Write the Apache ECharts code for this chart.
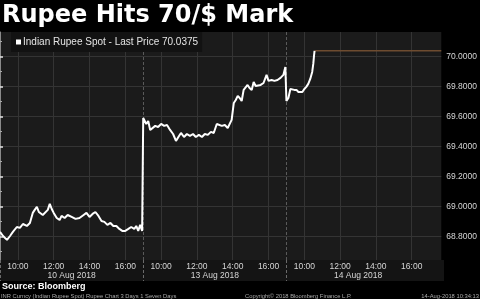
<!DOCTYPE html>
<html><head><meta charset="utf-8">
<script src="https://cdn.jsdelivr.net/npm/echarts@6/dist/echarts.min.js"></script>
<style>html,body{margin:0;padding:0;background:#000;}#c{width:480px;height:299px;}</style>
</head><body><div id="c"></div>
<script>
// [hour of day, INR per USD]
const day1 = [[9.00,68.830],[9.17,68.803],[9.39,68.777],[9.56,68.803],[9.72,68.830],[9.94,68.863],[10.11,68.857],[10.28,68.883],[10.50,68.870],[10.67,68.890],[10.83,68.957],[10.94,68.977],[11.06,68.997],[11.17,68.963],[11.28,68.970],[11.39,68.943],[11.50,68.950],[11.67,68.977],[11.78,69.017],[11.89,68.983],[12.00,68.957],[12.17,68.923],[12.33,68.910],[12.44,68.937],[12.61,68.923],[12.78,68.943],[13.00,68.930],[13.22,68.917],[13.44,68.923],[13.67,68.943],[13.83,68.957],[14.00,68.930],[14.17,68.950],[14.33,68.963],[14.50,68.937],[14.67,68.903],[14.83,68.897],[15.00,68.877],[15.17,68.890],[15.33,68.870],[15.50,68.870],[15.67,68.850],[15.83,68.837],[16.00,68.837],[16.17,68.850],[16.33,68.863],[16.50,68.850],[16.61,68.870],[16.72,68.837],[16.83,68.877],[16.94,68.837]];
const day2 = [[9.00,69.590],[9.06,69.590],[9.17,69.550],[9.28,69.570],[9.39,69.510],[9.50,69.523],[9.67,69.537],[9.83,69.530],[10.00,69.550],[10.17,69.537],[10.33,69.543],[10.50,69.510],[10.67,69.483],[10.83,69.437],[11.00,69.470],[11.11,69.490],[11.28,69.463],[11.44,69.483],[11.61,69.470],[11.78,69.483],[11.94,69.463],[12.11,69.477],[12.28,69.463],[12.44,69.483],[12.61,69.477],[12.78,69.497],[12.94,69.490],[13.11,69.550],[13.22,69.557],[13.39,69.537],[13.56,69.543],[13.72,69.523],[13.83,69.530],[13.94,69.577],[14.06,69.690],[14.17,69.710],[14.28,69.737],[14.39,69.723],[14.50,69.703],[14.61,69.777],[14.72,69.790],[14.83,69.810],[14.94,69.790],[15.06,69.777],[15.17,69.830],[15.28,69.803],[15.39,69.797],[15.56,69.810],[15.72,69.823],[15.89,69.877],[16.00,69.837],[16.17,69.843],[16.33,69.837],[16.50,69.843],[16.67,69.857],[16.83,69.877],[16.94,69.930]];
const day3 = [[9.00,69.703],[9.11,69.723],[9.22,69.783],[9.33,69.770],[9.44,69.777],[9.56,69.777],[9.67,69.763],[9.78,69.770],[9.89,69.763],[10.00,69.783],[10.11,69.797],[10.22,69.817],[10.33,69.850],[10.44,69.897],[10.50,69.950],[10.54,70.003],[10.57,70.0375]];
const lastPrice = 70.0375;
const hourLabels = ['10:00','12:00','14:00','16:00'];
const dateLabels = ['10 Aug 2018','13 Aug 2018','14 Aug 2018'];
const yTicks = [68.8, 69.0, 69.2, 69.4, 69.6, 69.8, 70.0];
const yMinorTicks = [68.7, 68.9, 69.1, 69.3, 69.5, 69.7, 69.9, 70.1];

const sessionOpen = 9, sessionLen = 8;
const xMax = 24.65, yMin = 68.643, yMax = 70.163;
const days = [day1, day2, day3];
const lineData = [];
days.forEach((d, i) => d.forEach(p => lineData.push([i * sessionLen + (p[0] - sessionOpen), p[1]])));
const hourTickVals = [], dividerVals = [], dateVals = [];
days.forEach((d, i) => {
  dividerVals.push(i * sessionLen);
  dateVals.push(i * sessionLen + sessionLen / 2);
  hourLabels.forEach(h => hourTickVals.push(i * sessionLen + parseInt(h) - sessionOpen));
});
const tLast = lineData[lineData.length - 1][0];
const seriesName = 'Indian Rupee Spot - Last Price ' + lastPrice.toFixed(4);

const chart = echarts.init(document.getElementById('c'), null, {renderer: 'canvas'});
const labelFont = {color: '#d6d6d6', fontFamily: 'Liberation Sans, Arial, sans-serif', fontSize: 8.5};
const footFont = {color: '#aaa', fontFamily: 'Liberation Sans', fontWeight: 'normal', fontSize: 5.8, lineHeight: 7};
chart.setOption({
  backgroundColor: '#000',
  animation: false,
  graphic: [{type: 'rect', z: -10, silent: true, shape: {x: 0, y: 260, width: 444, height: 21}, style: {fill: '#141414'}}],
  title: [
    {text: 'Rupee Hits 70/$ Mark', left: 2, top: 2, padding: 0, textStyle: {color: '#fff', fontFamily: 'DejaVu Sans', fontWeight: 'bold', fontSize: 24, lineHeight: 28}},
    {text: 'Source: Bloomberg', left: 2, top: 281, padding: 0, textStyle: {color: '#fff', fontFamily: 'Liberation Sans', fontWeight: 'bold', fontSize: 9, lineHeight: 11}},
    {text: 'INR Curncy (Indian Rupee Spot) Rupee Chart 3 Days 1 Seven Days', left: 1, top: 292.5, padding: 0, textStyle: footFont},
    {text: 'Copyright\u00a9 2018 Bloomberg Finance L.P.', left: 245, top: 292.5, padding: 0, textStyle: footFont},
    {text: '14-Aug-2018 10:34:13', right: 1, top: 292.5, padding: 0, textStyle: footFont}
  ],
  legend: {
    data: [seriesName], left: 11, top: 32, padding: [5, 4, 5, 5],
    backgroundColor: '#121212', icon: 'rect', itemWidth: 5, itemHeight: 5,
    textStyle: {color: '#e4e4e4', fontFamily: 'Liberation Sans, Arial, sans-serif', fontSize: 10, padding: [0, 0, 0, -3]}
  },
  grid: {left: 0, right: 36, top: 32, bottom: 39, show: true, backgroundColor: '#1b1b1b', borderWidth: 0},
  xAxis: [
    {type: 'value', position: 'bottom', min: 0, max: xMax,
     axisLine: {show: false}, axisTick: {show: false, customValues: hourTickVals},
     axisLabel: {customValues: hourTickVals, margin: 2, ...labelFont,
       formatter: v => { const h = Math.round(sessionOpen + (v % sessionLen)); return (h < 10 ? '0' : '') + h + ':00'; }},
     splitLine: {show: true, lineStyle: {color: '#343434', width: 1}}},
    {type: 'value', position: 'bottom', min: 0, max: xMax,
     axisLine: {show: false},
     axisTick: {show: true, customValues: dividerVals, length: 21, inside: false, lineStyle: {color: '#6a6a6a', type: [3, 2], width: 1}},
     axisLabel: {customValues: dateVals, margin: 11, ...labelFont,
       formatter: v => dateLabels[Math.round((v - sessionLen / 2) / sessionLen)] || ''},
     splitLine: {show: true, lineStyle: {color: '#5a5a5a', type: [3, 2], width: 1}}}
  ],
  yAxis: [
    {type: 'value', position: 'right', min: yMin, max: yMax,
     axisLine: {show: true, lineStyle: {color: '#8a8a8a', width: 1}},
     axisTick: {show: true, customValues: yTicks, length: 3, lineStyle: {color: '#e0e0e0', width: 1.5}},
     axisLabel: {customValues: yTicks, margin: 5, ...labelFont, formatter: v => v.toFixed(4)},
     splitLine: {show: true, lineStyle: {color: '#343434', width: 1}}},
    {type: 'value', position: 'right', min: yMin, max: yMax,
     axisLine: {show: false}, axisLabel: {show: false}, splitLine: {show: false},
     axisTick: {show: true, customValues: yMinorTicks, length: 2, lineStyle: {color: '#aaa', width: 1}}}
  ],
  series: [
    {name: seriesName, type: 'line', data: lineData, xAxisIndex: 0, yAxisIndex: 0, showSymbol: false,
     lineStyle: {color: '#fff', width: 2}, itemStyle: {color: '#fff'}, z: 5},
    {name: 'last', type: 'line', data: [[tLast, lastPrice], [xMax, lastPrice]], xAxisIndex: 0, yAxisIndex: 0,
     showSymbol: false, lineStyle: {color: '#6e4c30', width: 1.5}, z: 4}
  ]
});
</script></body></html>
